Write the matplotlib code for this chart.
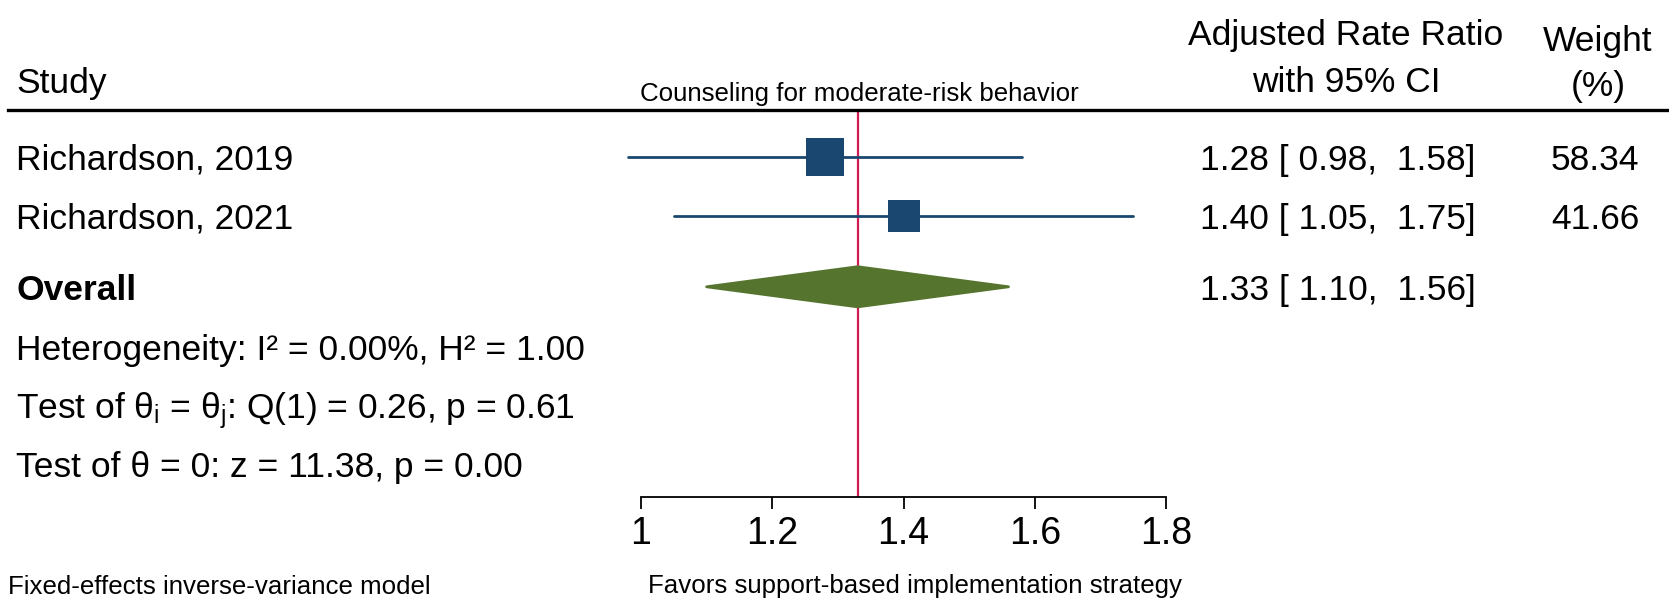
import numpy as np
import matplotlib
matplotlib.use("Agg")
import matplotlib.pyplot as plt
from matplotlib.patches import Polygon

plt.rcParams['font.family'] = ['Liberation Sans', 'DejaVu Sans']
plt.rcParams['mathtext.fontset'] = 'custom'
plt.rcParams['mathtext.rm'] = 'Liberation Sans'
plt.rcParams['mathtext.it'] = 'Liberation Sans'
plt.rcParams['mathtext.bf'] = 'Liberation Sans:bold'

# data
studies = ["Richardson, 2019", "Richardson, 2021"]
estimates = [1.28, 1.40]
ci_low = [0.98, 1.05]
ci_high = [1.58, 1.75]
weights = [58.34, 41.66]
row_pos = [1, 2]

overall_est = 1.33
overall_low = 1.10
overall_high = 1.56
overall_row = 3.2

i2, h2 = 0.00, 1.00
q_df, q_val, q_p = 1, 0.26, 0.61
z_val, z_p = 11.38, 0.00

x_ticks = [1, 1.2, 1.4, 1.6, 1.8]
tick_labels = ["1", "1.2", "1.4", "1.6", "1.8"]

# colours
navy = '#1a476f'
green = '#55752f'
red = '#d21b52'

W, H = 1669, 600
fig = plt.figure(figsize=(W / 100, H / 100), dpi=100)

BIG = 25.5
SMALL = 18.6


def ftext(x, y, s, **kw):
    # x, y in pixels from top-left
    fig.text(x / W, 1 - y / H, s, **kw)


# forest plot axes
ax = fig.add_axes([608.2 / W, 1 - 497 / H, (1166 - 608.2) / W, (497 - 110) / H])
ax.set_xlim(0.95, 1.8)
ax.set_ylim(1 + 340 / 59, 1 - 47 / 59)
for s in ['top', 'left', 'right']:
    ax.spines[s].set_visible(False)
ax.spines['bottom'].set_bounds(1, 1.8)
ax.spines['bottom'].set_linewidth(1.3)
ax.set_yticks([])
ax.set_xticks(x_ticks)
ax.set_xticklabels(tick_labels)
ax.tick_params(axis='x', direction='out', length=8.6, width=1.3, labelsize=27, pad=5)
ax.patch.set_visible(False)

ax.axvline(overall_est, color=red, lw=1.6, zorder=1)

for y, est, lo, hi, w in zip(row_pos, estimates, ci_low, ci_high, weights):
    ax.plot([lo, hi], [y, y], color=navy, lw=2.0, solid_capstyle='round', zorder=2)
    ax.scatter([est], [y], marker='s', s=w * 13.4, color=navy, linewidths=0, zorder=3)

half_h = 0.34
diamond = Polygon([[overall_low, overall_row], [overall_est, overall_row - half_h],
                   [overall_high, overall_row], [overall_est, overall_row + half_h]],
                  closed=True, facecolor=green, edgecolor=green, lw=2, joinstyle='round', zorder=2)
ax.add_patch(diamond)

# header
ftext(16, 93, "Study", fontsize=BIG, va='baseline')
ftext(859, 101, "Counseling for moderate-risk behavior", fontsize=SMALL, va='baseline', ha='center')
ftext(1346, 45, "Adjusted Rate Ratio", fontsize=BIG, va='baseline', ha='center')
ftext(1346, 92, "with 95% CI", fontsize=BIG, va='baseline', ha='center')
ftext(1598, 51, "Weight", fontsize=BIG, va='baseline', ha='center')
ftext(1598, 96, "(%)", fontsize=BIG, va='baseline', ha='center')
fig.add_artist(plt.Line2D([8 / W, 1], [1 - 110 / H, 1 - 110 / H], color='black', lw=2.4))

# rows
row_base = [170, 229]
for yb, name, est, lo, hi, w in zip(row_base, studies, estimates, ci_low, ci_high, weights):
    ftext(16, yb, name, fontsize=BIG, va='baseline')
    ftext(1200, yb, f"{est:.2f} [ {lo:.2f},  {hi:.2f}]", fontsize=BIG, va='baseline')
    ftext(1595, yb, f"{w:.2f}", fontsize=BIG, va='baseline', ha='center')

ftext(16, 300, "Overall", fontsize=BIG, va='baseline', fontweight='bold')
ftext(1200, 300, f"{overall_est:.2f} [ {overall_low:.2f},  {overall_high:.2f}]", fontsize=BIG, va='baseline')

ftext(16, 360, f"Heterogeneity: I\u00b2 = {i2:.2f}%, H\u00b2 = {h2:.2f}", fontsize=BIG, va='baseline')
ftext(16, 418, r"Test of $\theta_{\mathrm{i}}$ = $\theta_{\mathrm{j}}$" + f": Q({q_df}) = {q_val:.2f}, p = {q_p:.2f}",
      fontsize=BIG, va='baseline')
ftext(16, 477, f"Test of \u03b8 = 0: z = {z_val:.2f}, p = {z_p:.2f}", fontsize=BIG, va='baseline')

# footer
ftext(915, 593, "Favors support-based implementation strategy", fontsize=SMALL, va='baseline', ha='center')
ftext(8, 594, "Fixed-effects inverse-variance model", fontsize=SMALL, va='baseline')

fig.savefig("out.png", dpi=100, facecolor='white')
